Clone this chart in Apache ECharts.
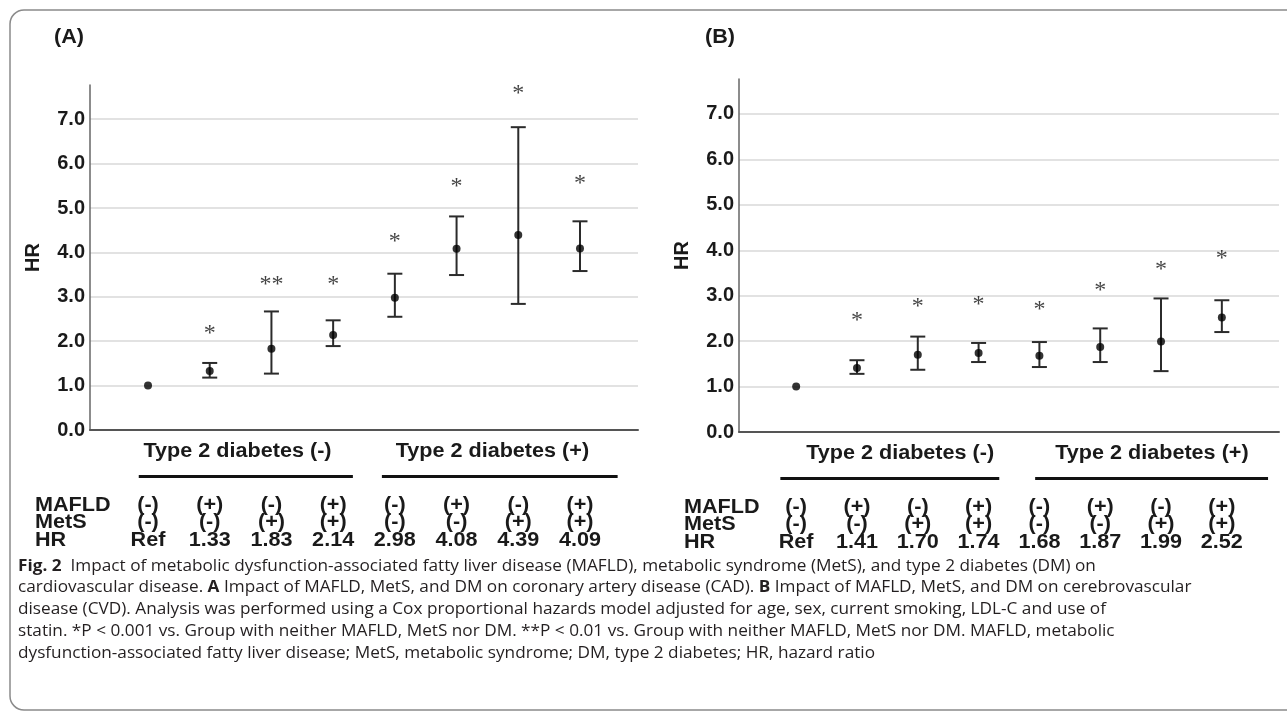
<!DOCTYPE html>
<html><head><meta charset="utf-8">
<script src="https://cdn.jsdelivr.net/npm/echarts@6/dist/echarts.min.js"></script>
<style>html,body{margin:0;padding:0;background:#fff;}#c{width:1287px;height:716px;}</style>
</head><body><div id="c"></div>
<script>
// ---------- data ----------
const groups = [1, 2, 3, 4, 5, 6, 7, 8];
const mafldRow = ['(-)', '(+)', '(-)', '(+)', '(-)', '(+)', '(-)', '(+)'];
const metsRow  = ['(-)', '(-)', '(+)', '(+)', '(-)', '(-)', '(+)', '(+)'];
const hrTextA = ['Ref', '1.33', '1.83', '2.14', '2.98', '4.08', '4.39', '4.09'];
const hrA   = [1.00, 1.33, 1.83, 2.14, 2.98, 4.08, 4.39, 4.09];
const lowA  = [null, 1.18, 1.27, 1.89, 2.55, 3.49, 2.84, 3.58];
const highA = [null, 1.51, 2.67, 2.47, 3.52, 4.81, 6.82, 4.70];
const sigA  = ['', '*', '**', '*', '*', '*', '*', '*'];
const sigYA = [null, 2.18, 3.27, 3.27, 4.23, 5.49, 7.58, 5.54];
const hrTextB = ['Ref', '1.41', '1.70', '1.74', '1.68', '1.87', '1.99', '2.52'];
const hrB   = [1.00, 1.41, 1.70, 1.74, 1.68, 1.87, 1.99, 2.52];
const lowB  = [null, 1.28, 1.37, 1.54, 1.43, 1.54, 1.34, 2.20];
const highB = [null, 1.58, 2.10, 1.96, 1.98, 2.28, 2.94, 2.90];
const sigB  = ['', '*', '*', '*', '*', '*', '*', '*'];
const sigYB = [null, 2.45, 2.75, 2.81, 2.70, 3.10, 3.58, 3.82];
const yTicks = [0, 1, 2, 3, 4, 5, 6, 7];
const groupNames = ['Type 2 diabetes (-)', 'Type 2 diabetes (+)'];
const rowNames = ['MAFLD', 'MetS', 'HR'];
const panelTitles = ['(A)', '(B)'];
const axisName = 'HR';
const captionLines = [
  '{b|Fig. 2}  Impact of metabolic dysfunction-associated fatty liver disease (MAFLD), metabolic syndrome (MetS), and type 2 diabetes (DM) on',
  'cardiovascular disease. {b|A} Impact of MAFLD, MetS, and DM on coronary artery disease (CAD). {b|B} Impact of MAFLD, MetS, and DM on cerebrovascular',
  'disease (CVD). Analysis was performed using a Cox proportional hazards model adjusted for age, sex, current smoking, LDL-C and use of',
  'statin. *P < 0.001 vs. Group with neither MAFLD, MetS nor DM. **P < 0.01 vs. Group with neither MAFLD, MetS nor DM. MAFLD, metabolic',
  'dysfunction-associated fatty liver disease; MetS, metabolic syndrome; DM, type 2 diabetes; HR, hazard ratio'
];

// ---------- layout / style ----------
const BOLD = '"Liberation Sans", Arial, sans-serif';
const INK = '#1a1a1a';
const panels = [
  { grid: { left: 90, top: 85, right: 649, bottom: 286 }, hr: hrA, low: lowA, high: highA, sig: sigA, sigY: sigYA, hrText: hrTextA,
    groupCenters: [2.45, 6.58], groupLines: [[0.85, 4.32], [4.79, 8.61]], titleX: 54 },
  { grid: { left: 739, top: 79, right: 8, bottom: 284 }, hr: hrB, low: lowB, high: highB, sig: sigB, sigY: sigYB, hrText: hrTextB,
    groupCenters: [2.71, 6.85], groupLines: [[0.74, 4.34], [4.93, 8.76]], titleX: 705 }
];
const X_MIN = 0.06, X_MAX = 8.94, Y_MAX = 7.77;

const chart = echarts.init(document.getElementById('c'), null, { renderer: 'canvas' });

const splitColors = yTicks.map(() => '#d9d9d9').concat(['rgba(0,0,0,0)', 'rgba(0,0,0,0)']);

const option = {
  animation: false,
  backgroundColor: '#fff',
  grid: panels.map(p => Object.assign({ containLabel: false }, p.grid)),
  xAxis: panels.map((p, i) => ({
    type: 'value', gridIndex: i, min: X_MIN, max: X_MAX,
    axisLine: { show: true, onZero: false, lineStyle: { color: '#555', width: 2 } },
    axisTick: { show: false }, axisLabel: { show: false }, splitLine: { show: false }
  })),
  yAxis: panels.map((p, i) => ({
    type: 'value', gridIndex: i, min: 0, max: Y_MAX, interval: 1,
    axisLine: { show: true, lineStyle: { color: '#666', width: 1.5 } },
    axisTick: { show: false },
    axisLabel: { showMaxLabel: false, margin: 5, formatter: v => (yTicks.indexOf(v) >= 0 ? v.toFixed(1) : ''),
      color: INK, fontFamily: BOLD, fontWeight: 'bold', fontSize: 20 },
    splitLine: { show: true, lineStyle: { color: splitColors, width: 1.5 } },
    name: axisName, nameLocation: 'middle', nameGap: 47,
    nameTextStyle: { color: INK, fontFamily: BOLD, fontWeight: 'bold', fontSize: 20 }
  })),
  series: []
};

panels.forEach((p, i) => {
  option.series.push({
    type: 'custom', xAxisIndex: i, yAxisIndex: i, z: 3,
    data: groups.map((g, k) => [g, p.low[k], p.high[k]]).filter(d => d[1] != null),
    encode: { x: 0, y: [1, 2] },
    renderItem: (params, api) => {
      const x = api.value(0);
      const a = api.coord([x, api.value(1)]);
      const b = api.coord([x, api.value(2)]);
      const w = 7.5;
      const st = { stroke: '#2b2b2b', lineWidth: 2 };
      return { type: 'group', children: [
        { type: 'line', shape: { x1: a[0], y1: a[1], x2: b[0], y2: b[1] }, style: st },
        { type: 'line', shape: { x1: a[0] - w, y1: a[1], x2: a[0] + w, y2: a[1] }, style: st },
        { type: 'line', shape: { x1: b[0] - w, y1: b[1], x2: b[0] + w, y2: b[1] }, style: st }
      ] };
    }
  });
  option.series.push({
    type: 'scatter', xAxisIndex: i, yAxisIndex: i, z: 4,
    symbol: 'circle', symbolSize: 8, itemStyle: { color: '#000' },
    data: groups.map((g, k) => [g, p.hr[k]])
  });
  option.series.push({
    type: 'scatter', xAxisIndex: i, yAxisIndex: i, z: 4,
    symbolSize: 1, itemStyle: { color: 'rgba(0,0,0,0)' },
    label: { show: true, position: 'inside', formatter: q => q.value[2],
      fontFamily: '"Liberation Serif", "Times New Roman", serif', fontSize: 24, color: '#111' },
    data: groups.map((g, k) => [g, p.sigY[k], p.sig[k]]).filter(d => d[1] != null)
  });
});

chart.setOption(option);

// ---------- annotation text positioned via the axes ----------
const graphic = [];
graphic.push({ type: 'rect', silent: true, shape: { x: 10, y: 10, width: 1300, height: 700, r: 14 },
  style: { fill: 'none', stroke: '#8a8a8a', lineWidth: 1.5 } });

const rowOffsets = [75, 92.5, 110];
const STRETCH = 1.08;
panels.forEach((p, i) => {
  const base = chart.convertToPixel({ gridIndex: i }, [X_MIN, 0]);
  const axisY = base[1], axisX = base[0];
  const px = v => chart.convertToPixel({ gridIndex: i }, [v, 0])[0];
  const txt = (t, x, y, align) => ({ type: 'text', silent: true, x: x, y: y, scaleX: STRETCH,
    style: { text: t, fill: INK, font: 'bold 20px ' + BOLD, align: align || 'center', verticalAlign: 'middle' } });
  graphic.push(txt(panelTitles[i], p.titleX, 37, 'left'));
  groupNames.forEach((gname, j) => {
    graphic.push(txt(gname, px(p.groupCenters[j]), axisY + 21));
    graphic.push({ type: 'line', silent: true, shape: { x1: px(p.groupLines[j][0]), y1: axisY + 46.5, x2: px(p.groupLines[j][1]), y2: axisY + 46.5 },
      style: { stroke: '#111', lineWidth: 3 } });
  });
  rowNames.forEach((r, j) => graphic.push(txt(r, axisX - 55, axisY + rowOffsets[j], 'left')));
  groups.forEach((g, k) => {
    const x = px(g);
    graphic.push(txt(mafldRow[k], x, axisY + rowOffsets[0]));
    graphic.push(txt(metsRow[k], x, axisY + rowOffsets[1]));
    graphic.push(txt(p.hrText[k], x, axisY + rowOffsets[2]));
  });
});

// caption
const capFont = '16.5px "Open Sans", sans-serif';
const ctx = document.createElement('canvas').getContext('2d');
ctx.font = capFont;
const plain = captionLines[1].replace(/\{b\|([^}]*)\}/g, '$1');
const sx = (1190 - 18) / ctx.measureText(plain).width;
captionLines.forEach((line, j) => {
  graphic.push({ type: 'text', silent: true, x: 18, y: 566 + j * 21.7, scaleX: sx,
    style: { text: line, font: capFont, fill: '#231f20', align: 'left', verticalAlign: 'middle',
      rich: { b: { fontFamily: '"Open Sans", sans-serif', fontWeight: 'bold', fontSize: 16.5, fill: '#231f20' } } } });
});

chart.setOption({ graphic: graphic });
</script>
</body></html>
